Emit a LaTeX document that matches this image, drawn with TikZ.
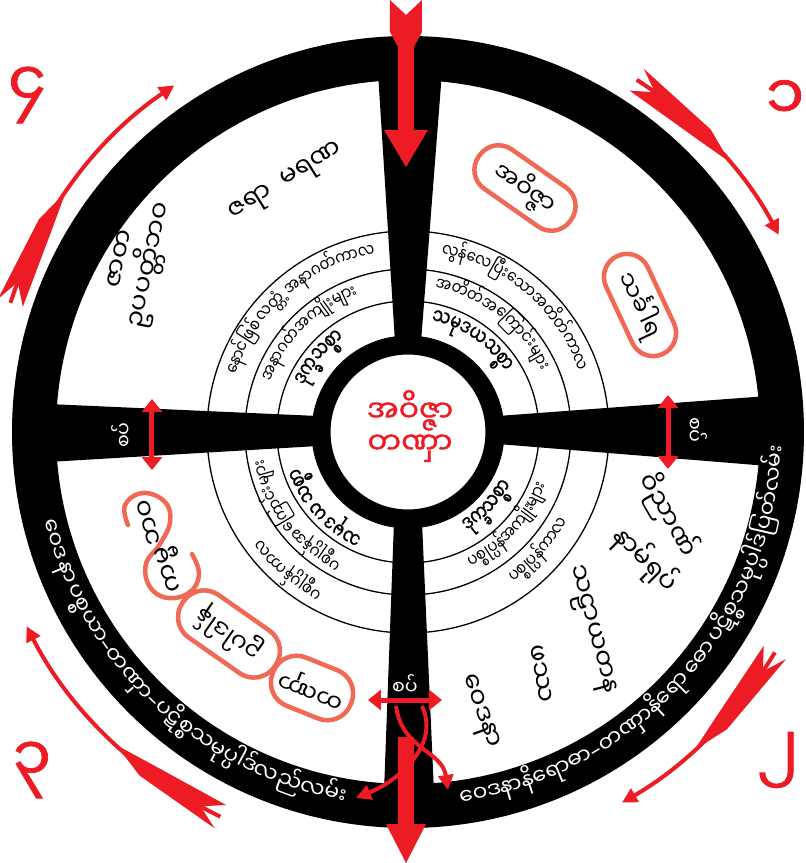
\documentclass[tikz,border=0pt]{standalone}
\usepackage{fontspec}
\newfontfamily\mmfont[Script=Myanmar]{Noto Sans Myanmar UI}
\newfontfamily\mmbold[Script=Myanmar,FakeBold=1.2]{Noto Sans Myanmar UI}
\newfontfamily\mmnarrow[Script=Myanmar,FakeStretch=0.82]{Noto Sans Myanmar UI}
\newfontfamily\mmnarrowbold[Script=Myanmar,FakeStretch=0.72,FakeBold=1.2]{Noto Sans Myanmar UI}
\newfontfamily\dashfont{DejaVu Sans}
\usetikzlibrary{arrows.meta}
\definecolor{arrred}{RGB}{237,28,36}
\definecolor{ovalred}{RGB}{240,105,85}

\newcommand\ringfont{\mmnarrow\fontsize{18}{21}\selectfont}
\newcommand\innerfont{\mmnarrowbold\fontsize{22}{26}\selectfont}
\newcommand\bandfont{\mmfont\fontsize{22}{25}\selectfont}
\newcommand\lblfont{\mmfont\fontsize{26}{30}\selectfont}
\newcommand\ovalfont{\mmfont\fontsize{24}{28}\selectfont}
\newcommand\ctrfont{\mmbold\fontsize{30}{36}\selectfont}
\newcommand\spkfont{\mmfont\fontsize{19}{22}\selectfont}
\newcommand\numfont{\mmbold\fontsize{62}{68}\selectfont}
\newcommand\rimdash{{\dashfont –}}

%% words set one by one along a circle round (0,0); measured before the picture
%% #1 name, #2 font, #3 radius, #4 centre angle, #5 1 = ccw / -1 = cw, #6 words
\newdimen\chunkw
\newdimen\chunktot
\newcommand\arcprep[6]{%
  \global\chunktot=0pt
  \foreach \s in {#6}{\settowidth\chunkw{#2\s}\global\advance\chunktot by\chunkw}%
  \pgfmathsetmacro\arcstart{#4-(#5)*(\the\chunktot)/(#3)*28.64789}%
  \global\let\arcacc\empty
  \foreach \s [remember=\arcnxt as \arccur (initially \arcstart)] in {#6}{%
    \settowidth\chunkw{#2\s}%
    \pgfmathsetmacro\arcdang{(\the\chunkw)/(#3)*57.29578}%
    \pgfmathsetmacro\arcmid{\arccur+(#5)*\arcdang/2}%
    \pgfmathsetmacro\arcnxt{\arccur+(#5)*\arcdang}%
    \pgfmathsetmacro\arcrot{\arcmid+(#5)*90}%
    \xdef\arcacc{\arcacc\ifx\arcacc\empty\else,\fi\arcmid/\arcrot/\unexpanded\expandafter{\s}}%
  }%
  \global\expandafter\let\csname arcl@#1\endcsname\arcacc}
%% #1 name, #2 style, #3 radius
\newcommand\arcnodes[3]{%
  \expandafter\let\expandafter\arclist\csname arcl@#1\endcsname
  \foreach \arca/\arcr/\arcs [count=\i] in \arclist {\node[#2, rotate=\arcr] (#1-\i) at (\arca:#3) {\arcs};}}

%% feather at the tail of a bent arrow: tail angle, radius, -1 = clockwise
\newcommand\fletch[3]{%
  \fill[arrred] (#1:{#2+13}) -- ({#1+(#3)*3}:#2) -- (#1:{#2-13})
    -- ({#1+(#3)*12}:{#2-8}) -- ({#1+(#3)*17}:#2) -- ({#1+(#3)*12}:{#2+8}) -- cycle;}

\begin{document}
%% ring texts
\arcprep{q1o}{\ringfont}{182}{49.5}{-1}{လွန်,လေ,ပြီး,သော,အ,တိတ်,ကာ,လ}%
\arcprep{q1m}{\ringfont}{147}{52}{-1}{အ,တိတ်,အ,ကြောင်း,များ}%
\arcprep{q1i}{\innerfont}{114}{55}{-1}{သ,မု,ဒ,ယ,သစ္စာ}%
\arcprep{q2o}{\ringfont}{182}{-42}{1}{ပစ္စုပ္ပန်,ကာ,လ}%
\arcprep{q2m}{\ringfont}{147}{-43}{1}{ပစ္စုပ္ပန်,အ,ကျိုး,များ}%
\arcprep{q2i}{\innerfont}{114}{-43}{1}{ဒုက္ခ,သစ္စာ}%
\arcprep{q3o}{\ringfont}{182}{229}{-1}{ပစ္စုပ္ပန်,ကာ,လ}%
\arcprep{q3m}{\ringfont}{147}{217}{-1}{ပစ္စုပ္ပန်,အ,ကြောင်း,များ}%
\arcprep{q3i}{\innerfont}{114}{222}{-1}{သ,မု,ဒ,ယ~,သစ္စာ}%
\arcprep{q4o}{\ringfont}{182}{131}{-1}{နောင်,ဖြစ်,လတ္တံ့~,အ,နာ,ဂတ်,ကာ,လ}%
\arcprep{q4m}{\ringfont}{147}{135}{-1}{အ,နာ,ဂတ်,အ,ကျိုး,များ}%
\arcprep{q4i}{\innerfont}{114}{140}{-1}{ဒုက္ခ,သစ္စာ}%
%% rim texts
\arcprep{rl}{\bandfont}{374}{227}{1}{ဝေ,ဒ,နာ~,ပစ္စ,ယာ,\rimdash,တဏှာ,\rimdash,ပ,ဋိစ္စ,သ,မုပ္ပါဒ်,လည်,လမ်း}%
\arcprep{rr}{\bandfont}{374}{318}{1}{ဝေ,ဒ,နာ,နိ,ရော,ဓာ,\rimdash,တဏှာ,နိ,ရော,ဓော~,ပ,ဋိစ္စ,သ,မုပ္ပါဒ်,ပြတ်,လမ်း}%
\begin{tikzpicture}[x=1pt, y=1pt,
    ringtxt/.style={font=\ringfont, inner sep=0pt, text height=0.9em, text depth=0.35em},
    ringbold/.style={font=\innerfont, inner sep=0pt, text height=0.9em, text depth=0.35em},
    bandtxt/.style={font=\bandfont, text=white, inner sep=0pt, text height=0.9em, text depth=0.35em},
    lbl/.style={font=\lblfont, inner sep=1pt, align=center},
    oval/.style={draw=ovalred, line width=4.5pt, rounded corners=23pt, font=\ovalfont,
                 minimum width=112pt, minimum height=48pt, inner sep=0pt},
    spk/.style={font=\spkfont, text=white, inner sep=0pt},
    num/.style={font=\numfont, text=arrred, inner sep=0pt},
    spoke/.style={fill=black},
    redbody/.style={fill=arrred},
    redarr/.style={draw=arrred, line width=4pt, -{Triangle[length=15pt, width=15pt]}},
    dblarr/.style={draw=arrred, line width=5pt,
                   {Triangle[length=13pt, width=20pt]}-{Triangle[length=13pt, width=20pt]}}
  ]
  \useasboundingbox[fill=white] (-408,-431) rectangle (398,432);
  %% thin rings
  \draw[line width=1.3pt] (0,0) circle (131) (0,0) circle (163) (0,0) circle (201);
  %% rim, spokes, hub
  \draw[line width=44pt] (0,0) circle (374);
  \fill[spoke] (-13,90) -- (13,90) -- (34,360) -- (-30,360) -- cycle;
  \fill[spoke] (90,16) -- (360,36) -- (360,-34) -- (90,-12) -- cycle;
  \fill[spoke] (-90,16) -- (-360,28) -- (-360,-30) -- (-90,-14) -- cycle;
  \fill[spoke] (-14,-90) -- (-24,-360) -- (26,-360) -- (14,-90) -- cycle;
  \draw[line width=19pt, fill=white] (0,0) circle (87);
  %% hub text
  \node[font=\ctrfont, text=arrred, align=center] (hub) at (2,6) {အဝိဇ္ဇာ\\[-4pt]တဏှာ};

  %% ring texts
  \arcnodes{q1o}{ringtxt}{182}
  \arcnodes{q1m}{ringtxt}{147}
  \arcnodes{q1i}{ringbold}{114}
  \arcnodes{q2o}{ringtxt}{182}
  \arcnodes{q2m}{ringtxt}{147}
  \arcnodes{q2i}{ringbold}{114}
  \arcnodes{q3o}{ringtxt}{182}
  \arcnodes{q3m}{ringtxt}{147}
  \arcnodes{q3i}{ringbold}{114}
  \arcnodes{q4o}{ringtxt}{182}
  \arcnodes{q4m}{ringtxt}{147}
  \arcnodes{q4i}{ringbold}{114}
  %% rim texts
  \arcnodes{rl}{bandtxt}{374}
  \arcnodes{rr}{bandtxt}{374}

  %% spoke labels
  \node[spk, rotate=-90] (sr) at (289,2) {စပ်};
  \node[spk, rotate=90]  (sl) at (-286,-3) {စပ်};
  \node[spk]             (sb) at (-3,-253) {စပ်};

  %% quadrant 1
  \node[oval, rotate=-35] (avijja) at (117,244) {အဝိဇ္ဇာ};
  \node[oval, rotate=-65, minimum width=108pt, minimum height=46pt] (sankhara) at (232,127) {သင်္ခါရ};
  %% quadrant 2
  \node[lbl, rotate=-60] (vinnana) at (260,-83) {ဝိညာဏ်};
  \node[lbl, rotate=-45] (namarupa) at (237,-128) {နာမ်ရုပ်};
  \node[lbl, rotate=-75] (salayatana) at (182,-198) {သဠာယတန};
  \node[lbl, rotate=-80] (phassa) at (132,-242) {ဖဿ};
  \node[lbl, rotate=-70] (vedana) at (70,-280) {ဝေဒနာ};
  %% quadrant 3
  \draw[draw=ovalred, line width=4.5pt, line cap=round] plot[smooth, tension=0.7] coordinates {
    (-280,-93) (-283,-73) (-265,-61) (-243,-70) (-238,-90) (-248,-112) (-262,-132)
    (-258,-155) (-240,-166) (-218,-160) (-209,-142) (-216,-122)};
  \node[lbl, rotate=105] (bhava) at (-258,-90) {ဘဝ};
  \node[lbl, rotate=110] (kamma) at (-236,-136) {ကမ္မ};
  \node[oval, rotate=145, minimum height=52pt, rounded corners=25pt] (upadana) at (-179,-202) {ဥပါဒါန်};
  \node[oval, rotate=158, minimum width=84pt, minimum height=52pt, rounded corners=25pt] (tanha) at (-96,-256) {တဏှာ};
  %% quadrant 4
  \node[lbl, rotate=32] (jara) at (-121,249) {ဇရာ~~မရဏ};
  \node[lbl, rotate=78] (jati) at (-275,170) {ဇာတိ\\ဥပပတ္တိဘဝ};

  %% numbers
  \node[num] (n1) at (377,332) {၁};
  \node[num] (n2) at (370,-328) {၂};
  \node[num] (n3) at (-376,-338) {၃};
  \node[num] (n4) at (-381,337) {၄};

  %% big arrow in, big arrow out
  \fill[redbody] (-18,432) -- (-2,417) -- (14,432) -- (14,400) -- (6,385) -- (6,302) -- (20,302)
    -- (-2,265) -- (-24,302) -- (-10,302) -- (-10,385) -- (-18,400) -- cycle;
  \fill[redbody] (-10,-305) -- (6,-305) -- (6,-392) -- (18,-392) -- (-2,-431) -- (-22,-392)
    -- (-10,-392) -- cycle;
  %% joints
  \coordinate (jr1) at (260,37);   \coordinate (jr2) at (260,-37);
  \coordinate (jl1) at (-256,33);  \coordinate (jl2) at (-256,-38);
  \coordinate (jb1) at (-40,-268); \coordinate (jb2) at (34,-268);
  \draw[dblarr] (jr1) -- (jr2);
  \draw[dblarr] (jl1) -- (jl2);
  \draw[dblarr] (jb1) -- (jb2);
  \coordinate (cl0) at (14,-274);  \coordinate (cl1) at (-52,-366);
  \coordinate (cr0) at (-12,-274); \coordinate (cr1) at (40,-358);
  \draw[redarr] (cl0) .. controls (32,-312) and (-8,-348) .. (cl1);
  \draw[redarr] (cr0) .. controls (-6,-318) and (34,-318) .. (cr1);

  %% turning arrows outside the rim
  \coordinate (a1) at (57:420);  \coordinate (a2) at (-31:428);
  \coordinate (a3) at (244:428); \coordinate (a4) at (162:418);
  \draw[redarr] (a1) arc[start angle=57, end angle=28, radius=420];
  \draw[redarr] (a2) arc[start angle=-31, end angle=-60, radius=428];
  \draw[redarr] (a3) arc[start angle=244, end angle=207, radius=428];
  \draw[redarr] (a4) arc[start angle=162, end angle=124, radius=418];
  \fletch{57}{420}{-1}
  \fletch{-31}{428}{-1}
  \fletch{244}{428}{-1}
  \fletch{162}{418}{-1}
\end{tikzpicture}
\end{document}
